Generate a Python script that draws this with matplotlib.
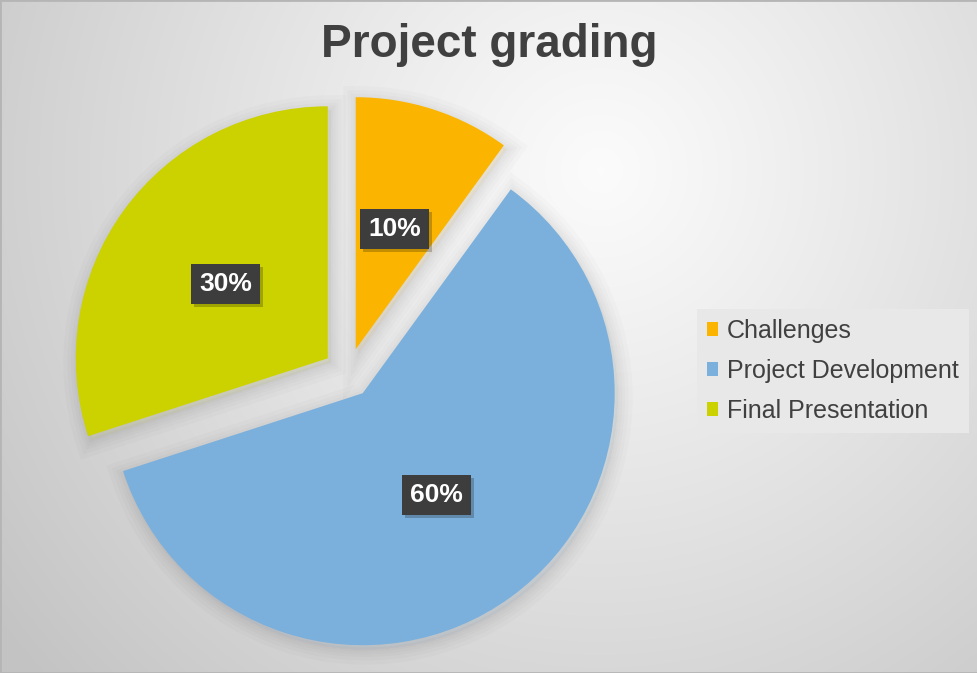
import numpy as np
import matplotlib.pyplot as plt
import matplotlib.patheffects as pe

# Data
labels = ['Challenges', 'Project Development', 'Final Presentation']
shares = [10, 60, 30]
colors = ['#FBB500', '#7BB0DC', '#CCD100']

plt.rcParams['font.family'] = ['Liberation Sans', 'DejaVu Sans']

W, H = 978, 673
fig = plt.figure(figsize=(W / 100, H / 100), dpi=100)
ax = fig.add_axes([0, 0, 1, 1])
ax.axis('off')

# radial gradient background (row 0 = top of picture)
yy, xx = np.mgrid[0:H, 0:W]
dist = np.hypot(xx - 600, yy - 170) / 760
dist = np.clip(dist, 0, 1)
shade = 0.985 - 0.22 * dist ** 1.1
bg = np.dstack([shade, shade, shade])
ax.imshow(bg, extent=(0, W, 0, H), origin='upper', zorder=0, aspect='auto')

# soft shadow as stacked strokes
shadow = [pe.Stroke(linewidth=w, foreground='black', alpha=0.015, offset=(2, -3))
          for w in (22, 16, 11, 7, 3)] + [pe.Normal()]

wedges, texts, autotexts = ax.pie(
    shares, colors=colors, startangle=90, counterclock=False,
    radius=252, center=(348, 300), explode=[25, 25, 25],
    autopct='%1.0f%%', pctdistance=0.5, frame=False,
    wedgeprops=dict(linewidth=0, path_effects=shadow),
    textprops=dict(color='white', fontsize=19, fontweight='bold'))
ax.set_xlim(0, W)
ax.set_ylim(0, H)
ax.set_aspect('equal')

for t in autotexts:
    t.set_zorder(5)
    t.set_bbox(dict(boxstyle='square,pad=0.3', facecolor='#3d3d3d', edgecolor='none'))

# box shadows: plain rectangles behind each label box
fig.canvas.draw()
inv = ax.transData.inverted()
for t in autotexts:
    ext = t.get_bbox_patch().get_window_extent()
    (x0, y0), (x1, y1) = inv.transform([[ext.x0, ext.y0], [ext.x1, ext.y1]])
    ax.add_patch(plt.Rectangle((x0 + 3, y0 - 3), x1 - x0, y1 - y0,
                               facecolor='black', alpha=0.22, edgecolor='none', zorder=4))

fig.text(0.5, 1 - 45 / H, 'Project grading', ha='center', va='center',
         fontsize=33, fontweight='bold', color='#404040')

leg = ax.legend(wedges, labels, loc='center left', bbox_to_anchor=(697 / W, 1 - 371 / H),
                bbox_transform=fig.transFigure, frameon=True, fancybox=False,
                fontsize=18, handlelength=0.45, handleheight=0.45, handletextpad=0.35,
                labelspacing=0.64, borderpad=0.4, borderaxespad=0)
leg.get_frame().set_facecolor('#e8e8e8')
leg.get_frame().set_edgecolor('none')
leg.get_frame().set_alpha(1)
for t in leg.get_texts():
    t.set_color('#404040')
for h in leg.legend_handles:
    h.set_path_effects([])

# thin border
fig.patches.append(plt.Rectangle((0, 0), 1, 1, transform=fig.transFigure,
                                 fill=False, edgecolor='#b5b5b5', linewidth=2))

fig.savefig('out.png', dpi=100)
